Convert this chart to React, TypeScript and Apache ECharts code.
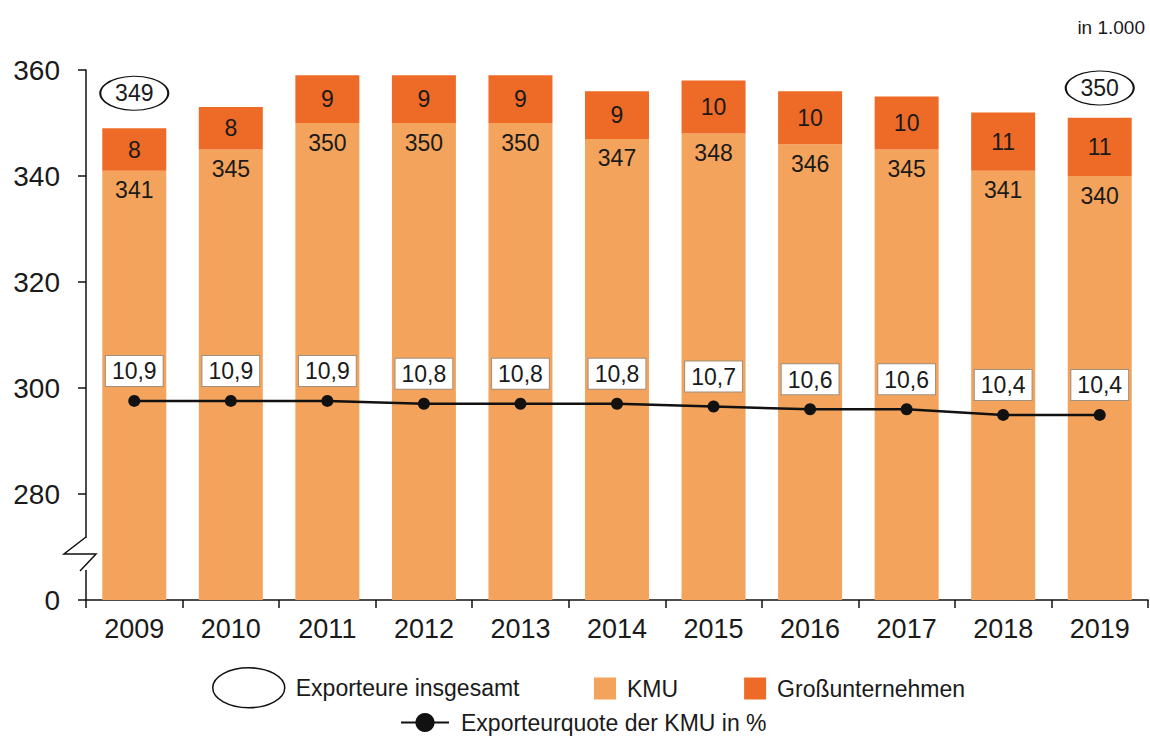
import React, { useEffect, useRef } from "react";
import * as echarts from "echarts";

const years = ["2009", "2010", "2011", "2012", "2013", "2014", "2015", "2016", "2017", "2018", "2019"];
const kmu = [341, 345, 350, 350, 350, 347, 348, 346, 345, 341, 340];
const grossunternehmen = [8, 8, 9, 9, 9, 9, 10, 10, 10, 11, 11];
const insgesamt: (number | string)[] = [349, "-", "-", "-", "-", "-", "-", "-", "-", "-", 350];
const exportquote = [10.9, 10.9, 10.9, 10.8, 10.8, 10.8, 10.7, 10.6, 10.6, 10.4, 10.4];
const yTickLabels: Record<number, string> = { 260: "0", 280: "280", 300: "300", 320: "320", 340: "340", 360: "360" };

const FONT = "Liberation Sans, Arial, sans-serif";
const TXT = "#1a1a1a";
const C_KMU = "#F3A35B";
const C_GROSS = "#EE6A27";
const ELLIPSE = "path://M0,20 A36,20 0 1,0 72,20 A36,20 0 1,0 0,20 Z";

export default function App() {
  const ref = useRef<HTMLDivElement>(null);
  useEffect(() => {
    if (!ref.current) return;
    const chart = echarts.init(ref.current, null, { renderer: "svg" });
    chart.setOption({
      animation: false,
      textStyle: { fontFamily: FONT, color: TXT },
      title: {
        text: "in 1.000",
        right: 0,
        top: 13,
        textStyle: { fontSize: 19, fontWeight: "normal", color: TXT, fontFamily: FONT },
      },
      grid: { left: 86, right: 2, top: 70, bottom: 138, containLabel: false, outerBoundsMode: "none" },
      legend: [
        {
          data: [{ name: "Exporteure insgesamt", icon: ELLIPSE }],
          left: 207,
          top: 662,
          itemWidth: 72,
          itemHeight: 40,
          itemStyle: { color: "#fff", borderColor: "#111", borderWidth: 1.5 },
          textStyle: { fontSize: 23, color: TXT, fontFamily: FONT, padding: [0, 0, 0, 6] },
        },
        {
          data: ["KMU", "Großunternehmen"],
          left: 589,
          top: 672,
          icon: "rect",
          itemWidth: 22,
          itemHeight: 22,
          itemGap: 66,
          textStyle: { fontSize: 23, color: TXT, fontFamily: FONT, padding: [0, 0, 0, 6] },
        },
        {
          data: ["Exporteurquote der KMU in %"],
          left: 395,
          top: 706,
          itemWidth: 48,
          itemHeight: 24,
          textStyle: { fontSize: 23, color: TXT, fontFamily: FONT, padding: [0, 0, 0, 7] },
        },
      ],
      xAxis: {
        type: "category",
        data: years,
        axisLine: { lineStyle: { color: "#111", width: 1.5 } },
        axisTick: { show: true, length: 8, lineStyle: { color: "#111", width: 1.5 } },
        axisLabel: { fontSize: 27, color: TXT, margin: 15, fontFamily: FONT },
      },
      yAxis: [
        {
          type: "value",
          min: 260,
          max: 360,
          interval: 20,
          splitLine: { show: false },
          axisLine: { show: true, lineStyle: { color: "#111", width: 1.5 } },
          axisTick: { show: true, length: 8, lineStyle: { color: "#111", width: 1.5 } },
          axisLabel: {
            fontSize: 28,
            color: TXT,
            margin: 26,
            fontFamily: FONT,
            formatter: (v: number) => yTickLabels[v] ?? "",
          },
        },
        { type: "value", show: false, min: 3.8, max: 22.7, splitLine: { show: false } },
      ],
      series: [
        {
          name: "KMU",
          type: "bar",
          stack: "total",
          data: kmu,
          barWidth: 64,
          itemStyle: { color: C_KMU },
          label: {
            show: true,
            position: "insideTop",
            distance: 8,
            fontSize: 23,
            color: TXT,
            fontFamily: FONT,
          },
        },
        {
          name: "Großunternehmen",
          type: "bar",
          stack: "total",
          data: grossunternehmen,
          barWidth: 64,
          itemStyle: { color: C_GROSS },
          label: { show: true, position: "inside", fontSize: 23, color: TXT, fontFamily: FONT },
        },
        {
          name: "Exporteure insgesamt",
          type: "scatter",
          data: insgesamt,
          symbol: "circle",
          symbolSize: [68, 34],
          symbolOffset: [0, -35],
          symbolKeepAspect: false,
          itemStyle: { color: "#fff", borderColor: "#111", borderWidth: 1.5, opacity: 1 },
          label: { show: true, position: "inside", fontSize: 23, color: TXT, fontFamily: FONT },
          z: 5,
        },
        {
          name: "Exporteurquote der KMU in %",
          type: "line",
          yAxisIndex: 1,
          data: exportquote,
          symbol: "circle",
          symbolSize: 12,
          lineStyle: { color: "#111", width: 2.5 },
          itemStyle: { color: "#111" },
          label: {
            show: true,
            position: "top",
            distance: 9,
            fontSize: 23,
            color: TXT,
            fontFamily: FONT,
            backgroundColor: "#fff",
            borderColor: "#a0907e",
            borderWidth: 1,
            padding: [4, 6, 3, 6],
            formatter: (p: any) => String(p.value.toFixed(1)).replace(".", ","),
          },
          z: 6,
        },
      ],
      graphic: [
        { type: "rect", shape: { x: 83, y: 538, width: 6, height: 32 }, style: { fill: "#fff" }, z: 100 },
        {
          type: "polyline",
          shape: { points: [[86, 537], [64, 554], [96, 554], [80, 571]] },
          style: { stroke: "#111", lineWidth: 1.5, fill: null },
          z: 101,
        },
      ],
    });
    return () => chart.dispose();
  }, []);
  return <div ref={ref} style={{ position: "absolute", left: 0, top: 0, width: 1150, height: 738 }} />;
}
